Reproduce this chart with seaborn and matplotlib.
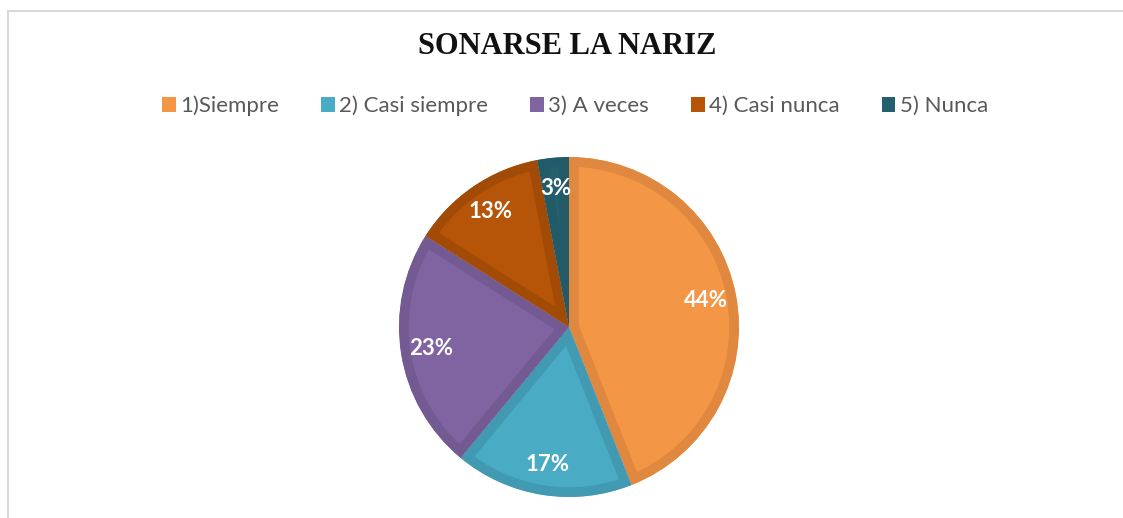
import matplotlib
matplotlib.use("Agg")
import matplotlib.pyplot as plt
from matplotlib.lines import Line2D
from matplotlib.patches import Patch
import seaborn as sns

categories = ["1)Siempre", "2) Casi siempre", "3) A veces", "4) Casi nunca", "5) Nunca"]
values = [44, 17, 23, 13, 3]
fill_colors = ["#F39646", "#4AABC5", "#8064A2", "#B65508", "#245F6E"]
edge_colors = ["#E0883F", "#4299B2", "#745A92", "#A24B06", "#235A68"]
title = "SONARSE LA NARIZ"

sns.set_theme(style="white")
plt.rcParams["font.family"] = ["Lato", "DejaVu Sans"]

fig = plt.figure(figsize=(11.23, 5.18), dpi=100)
fig.patch.set_facecolor("white")

# pie area: center (569, 327) px, radius 170 px
R = 170
ax = fig.add_axes([(569 - R) / 1123, (518 - 327 - R) / 518, 2 * R / 1123, 2 * R / 518])
wedges, texts, autotexts = ax.pie(
    values, colors=fill_colors, startangle=90, counterclock=False,
    autopct="%1.0f%%", pctdistance=0.82, radius=1.0,
    textprops={"color": "white", "fontsize": 16, "fontweight": "bold"},
    wedgeprops={"linewidth": 14},
)
# inner border: stroke clipped to the wedge itself
for w, ec in zip(wedges, edge_colors):
    w.set_edgecolor(ec)
    w.set_clip_path(w)
    w.set_clip_on(True)
ax.set_xlim(-1, 1)
ax.set_ylim(-1, 1)
ax.set_aspect("equal")
ax.axis("off")

fig.text(0.5055, 1 - 47 / 518, title, ha="center", va="center",
         fontsize=22, fontweight="bold", family=["Liberation Serif"], color="#111111")

handles = [Patch(facecolor=c, edgecolor="none") for c in fill_colors]
fig.legend(handles, categories, loc="center", bbox_to_anchor=(0.5122, 1 - 106 / 518),
           ncol=5, frameon=False, fontsize=16, handlelength=0.62, handleheight=0.62,
           handletextpad=0.2, columnspacing=1.88, labelcolor="#595959")

# chart border (top and left visible)
fig.add_artist(Line2D([8 / 1123, 1.0], [1 - 10.5 / 518] * 2, color="#D9D9D9", lw=1.5))
fig.add_artist(Line2D([8 / 1123] * 2, [0, 1 - 10.5 / 518], color="#D9D9D9", lw=1.5))

fig.savefig("out.png", dpi=100, facecolor="white")
